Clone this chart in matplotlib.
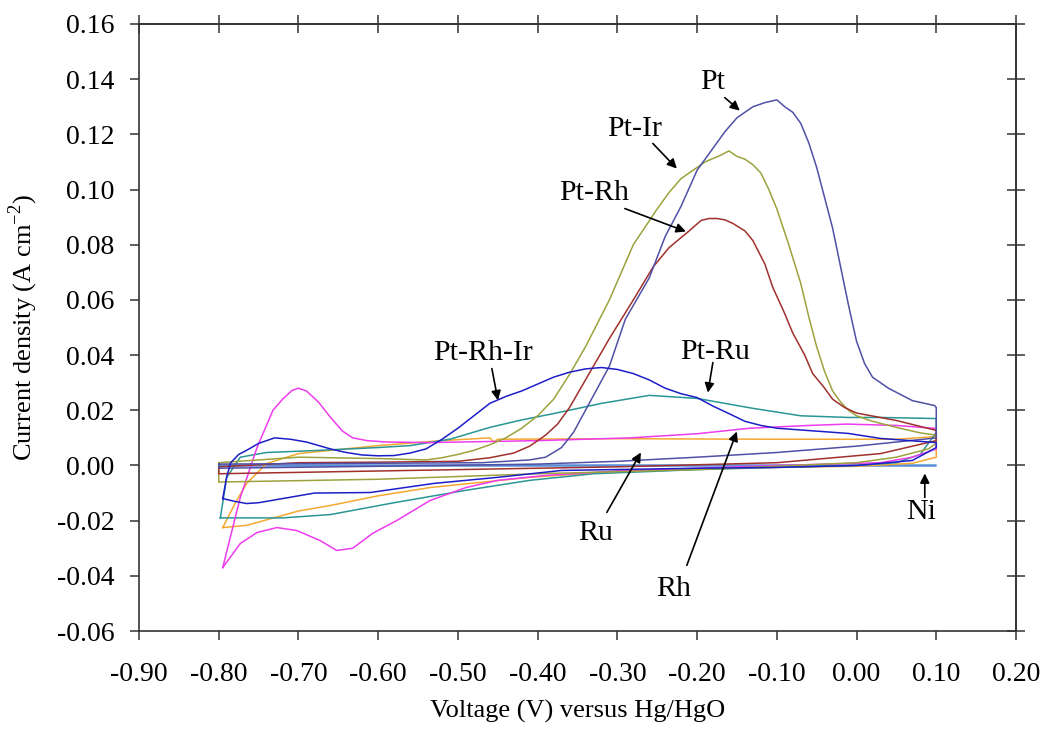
import matplotlib
matplotlib.use("Agg")
import matplotlib.pyplot as plt
from matplotlib.ticker import FormatStrFormatter

plt.rcParams['font.family'] = ['Liberation Serif', 'DejaVu Serif']
plt.rcParams['mathtext.fontset'] = 'custom'
plt.rcParams['mathtext.rm'] = 'Liberation Serif'
plt.rcParams['axes.unicode_minus'] = False

# cyclic voltammograms, potential (V vs Hg/HgO) and current density (A cm-2)
ni_v = [-0.80, 0.10, 0.10, -0.80]
ni_j = [0.0003, 0.0003, -0.0003, -0.0003]

pt_v = [-0.80, -0.60, -0.47, -0.41, -0.39, -0.37, -0.355, -0.34, -0.325, -0.31, -0.29, -0.26,
        -0.24, -0.22, -0.20, -0.18, -0.165, -0.15, -0.13, -0.115, -0.10, -0.09, -0.08, -0.07,
        -0.06, -0.05, -0.04, -0.03, -0.02, -0.01, 0.0, 0.01, 0.02, 0.04, 0.07, 0.098,
        0.10, 0.10, 0.0, -0.1, -0.2, -0.3, -0.4, -0.6, -0.8, -0.8]
pt_j = [0.0005, 0.0008, 0.001, 0.002, 0.003, 0.0065, 0.012, 0.020, 0.028, 0.036, 0.053, 0.068,
        0.083, 0.094, 0.107, 0.115, 0.121, 0.126, 0.130, 0.1315, 0.1325, 0.130, 0.128, 0.124,
        0.117, 0.108, 0.097, 0.086, 0.072, 0.058, 0.045, 0.037, 0.032, 0.028, 0.0235, 0.0217,
        0.021, 0.010, 0.007, 0.0047, 0.003, 0.0015, 0.0005, -0.0003, -0.001, 0.0005]

ptir_v = [-0.80, -0.70, -0.60, -0.54, -0.52, -0.50, -0.48, -0.46, -0.44, -0.42, -0.40, -0.38,
          -0.36, -0.34, -0.31, -0.28, -0.25, -0.235, -0.22, -0.20, -0.19, -0.17, -0.16, -0.15,
          -0.14, -0.13, -0.12, -0.11, -0.10, -0.085, -0.07, -0.06, -0.05, -0.04, -0.03, -0.02,
          -0.01, 0.0, 0.02, 0.05, 0.08, 0.10, 0.10, 0.09, 0.05, 0.0, -0.2, -0.4, -0.6, -0.8, -0.8]
ptir_j = [0.001, 0.003, 0.0025, 0.002, 0.0028, 0.004, 0.0055, 0.0075, 0.010, 0.0135, 0.018, 0.024,
          0.033, 0.043, 0.060, 0.080, 0.093, 0.099, 0.104, 0.108, 0.110, 0.1125, 0.114, 0.112,
          0.111, 0.109, 0.106, 0.100, 0.093, 0.080, 0.066, 0.054, 0.043, 0.034, 0.027, 0.023,
          0.020, 0.018, 0.016, 0.0138, 0.0118, 0.011, 0.008, 0.006, 0.003, 0.001, -0.0015, -0.003,
          -0.005, -0.006, 0.001]

ptrh_v = [-0.80, -0.70, -0.60, -0.50, -0.46, -0.43, -0.41, -0.39, -0.375, -0.36, -0.34, -0.31,
          -0.28, -0.255, -0.235, -0.21, -0.195, -0.185, -0.175, -0.165, -0.155, -0.14, -0.13,
          -0.115, -0.105, -0.09, -0.08, -0.065, -0.055, -0.04, -0.03, -0.015, 0.0, 0.05, 0.10,
          0.10, 0.03, -0.10, -0.30, -0.50, -0.80, -0.80]
ptrh_j = [-0.0005, 0.001, 0.0012, 0.0015, 0.0028, 0.0045, 0.007, 0.011, 0.015, 0.021, 0.031, 0.046,
          0.060, 0.072, 0.079, 0.085, 0.0888, 0.0895, 0.0895, 0.089, 0.0877, 0.085, 0.0815,
          0.073, 0.0645, 0.055, 0.048, 0.040, 0.0333, 0.028, 0.024, 0.021, 0.019, 0.0163, 0.0127,
          0.009, 0.0043, 0.001, -0.0005, -0.0015, -0.003, -0.0005]

ptrhir_v = [-0.795, -0.79, -0.785, -0.775, -0.765, -0.75, -0.73, -0.71, -0.69, -0.66, -0.64, -0.62,
            -0.60, -0.58, -0.56, -0.54, -0.52, -0.50, -0.48, -0.46, -0.44, -0.42, -0.40, -0.38,
            -0.36, -0.34, -0.32, -0.30, -0.28, -0.26, -0.24, -0.22, -0.20, -0.18, -0.16, -0.14,
            -0.12, -0.10, -0.01, 0.03, 0.10,
            0.10, 0.07, 0.0, -0.1, -0.2, -0.37, -0.45, -0.53, -0.61, -0.68, -0.72, -0.75, -0.765,
            -0.78, -0.795]
ptrhir_j = [-0.012, -0.004, 0.001, 0.004, 0.0055, 0.008, 0.010, 0.0095, 0.0085, 0.006, 0.0047, 0.0038,
            0.0035, 0.0036, 0.0045, 0.006, 0.0095, 0.0135, 0.018, 0.0225, 0.025, 0.027, 0.0295, 0.032,
            0.0338, 0.035, 0.0355, 0.0348, 0.0333, 0.031, 0.028, 0.026, 0.0246, 0.0215, 0.0188, 0.016,
            0.0145, 0.0135, 0.0116, 0.0098, 0.0083,
            0.0065, 0.0018, 0.0, -0.0007, -0.001, -0.0018, -0.0043, -0.0065, -0.0098, -0.010, -0.012,
            -0.0135, -0.0138, -0.013, -0.012]

ptru_v = [-0.798, -0.79, -0.773, -0.74, -0.68, -0.60, -0.56, -0.51, -0.46, -0.42, -0.38, -0.32,
          -0.26, -0.20, -0.13, -0.07, -0.01, 0.03, 0.10, 0.10, 0.08, 0.05, 0.0, -0.1, -0.2, -0.33,
          -0.41, -0.49, -0.58, -0.66, -0.72, -0.798]
ptru_j = [-0.019, -0.0043, 0.003, 0.0047, 0.0054, 0.0065, 0.0072, 0.0095, 0.0138, 0.0165, 0.0188,
          0.0225, 0.0254, 0.0243, 0.0207, 0.018, 0.0174, 0.0174, 0.017, 0.012, 0.004, 0.001, 0.0,
          -0.0007, -0.0015, -0.003, -0.0054, -0.009, -0.0135, -0.0178, -0.019, -0.019]

ru_v = [-0.795, -0.78, -0.765, -0.74, -0.70, -0.60, -0.52, -0.46, -0.455, -0.45, -0.30, -0.10,
        0.05, 0.10, 0.10, 0.07, 0.0, -0.1, -0.28, -0.41, -0.535, -0.60, -0.66, -0.70, -0.765, -0.795]
ru_j = [-0.0225, -0.014, -0.0065, 0.0007, 0.0043, 0.0072, 0.009, 0.010, 0.0085, 0.0095, 0.0097,
        0.0095, 0.0095, 0.0105, 0.003, 0.0008, -0.0003, -0.0007, -0.0018, -0.0043, -0.008, -0.011,
        -0.0145, -0.0165, -0.0217, -0.0225]

rh_v = [-0.795, -0.773, -0.752, -0.732, -0.72, -0.708, -0.70, -0.69, -0.675, -0.66, -0.645, -0.632,
        -0.614, -0.59, -0.535, -0.40, -0.284, -0.20, -0.134, -0.06, -0.012, 0.05, 0.10, 0.10, 0.07,
        0.03, -0.1, -0.3, -0.39, -0.45, -0.49, -0.535, -0.577, -0.607, -0.632, -0.652, -0.673,
        -0.702, -0.727, -0.752, -0.773, -0.795]
rh_j = [-0.037, -0.0116, 0.0065, 0.020, 0.024, 0.0272, 0.028, 0.027, 0.023, 0.0175, 0.0125, 0.0100,
        0.009, 0.0085, 0.0083, 0.009, 0.010, 0.0115, 0.0135, 0.0145, 0.015, 0.0145, 0.0134, 0.006,
        0.003, 0.001, 0.0, -0.002, -0.0036, -0.0054, -0.008, -0.0127, -0.020, -0.0246, -0.030,
        -0.0308, -0.0272, -0.0236, -0.0225, -0.0243, -0.0283, -0.037]

# label text, text position, arrow start, arrow tip
labels = ['Pt', 'Pt-Ir', 'Pt-Rh', 'Pt-Rh-Ir', 'Pt-Ru', 'Ru', 'Rh', 'Ni']
label_xy = [(-0.180, 0.1391), (-0.278, 0.1221), (-0.3295, 0.0986), (-0.4687, 0.0409),
            (-0.1777, 0.0413), (-0.327, -0.0243), (-0.2292, -0.0446), (0.0806, -0.0170)]
arrow_from = [(-0.1652, 0.1333), (-0.2555, 0.1167), (-0.2906, 0.0931), (-0.4574, 0.0351),
              (-0.1802, 0.0373), (-0.3132, -0.0170), (-0.2129, -0.0362), (0.0856, -0.0116)]
arrow_to = [(-0.1464, 0.1286), (-0.2254, 0.1076), (-0.2141, 0.0848), (-0.4498, 0.0236),
            (-0.1865, 0.0264), (-0.2705, 0.0047), (-0.1502, 0.0123), (0.0856, -0.0029)]

fig = plt.figure(figsize=(10.43, 7.29), dpi=100)
ax = fig.add_axes([0.1333, 0.1344, 0.8408, 0.8327])

lw = 1.1
ax.plot(ni_v, ni_j, color='#5B8FD8', lw=lw)
ax.plot(ru_v, ru_j, color='#F5A830', lw=lw)
ax.plot(ptru_v, ptru_j, color='#2A9595', lw=lw)
ax.plot(rh_v, rh_j, color='#EE3CEE', lw=lw)
ax.plot(ptir_v, ptir_j, color='#9CA23C', lw=lw)
ax.plot(ptrh_v, ptrh_j, color='#A0302C', lw=lw)
ax.plot(pt_v, pt_j, color='#5050A5', lw=lw)
ax.plot(ptrhir_v, ptrhir_j, color='#1E1EC8', lw=lw)

for lab, txy, a0, a1 in zip(labels, label_xy, arrow_from, arrow_to):
    ax.text(txy[0], txy[1], lab, fontsize=21.5, ha='center', va='center')
    ax.annotate('', xy=a1, xytext=a0,
                arrowprops=dict(arrowstyle='-|>', color='black', lw=1.2,
                                mutation_scale=14, shrinkA=0, shrinkB=0))

xt = [-0.9 + 0.1 * i for i in range(12)]
yt = [-0.06 + 0.02 * i for i in range(12)]
ax.set_xlim(-0.9, 0.2)
ax.set_ylim(-0.06, 0.16)
ax.set_xticks(xt)
ax.set_yticks(yt)
ax.xaxis.set_major_formatter(FormatStrFormatter('%.2f'))
ax.yaxis.set_major_formatter(FormatStrFormatter('%.2f'))
ax.tick_params(direction='out', length=6.5, width=1.1, color='#333333', labelsize=20)
ax.tick_params(axis='x', pad=16)
ax.tick_params(axis='y', pad=11)

top = ax.secondary_xaxis('top')
top.set_xticks(xt)
top.tick_params(direction='inout', length=13, width=1.1, color='#333333', labeltop=False)
right = ax.secondary_yaxis('right')
right.set_yticks(yt)
right.tick_params(direction='inout', length=13, width=1.1, color='#333333', labelright=False)

for s in list(ax.spines.values()) + [top.spines['top'], right.spines['right']]:
    s.set_color('#333333')
    s.set_linewidth(1.2)

ax.set_xlabel('Voltage (V) versus Hg/HgO', fontsize=19, labelpad=9)
ax.set_ylabel('Current density (A cm$^{-2}$)', fontsize=19, labelpad=12)

fig.savefig('out.png', dpi=100)
